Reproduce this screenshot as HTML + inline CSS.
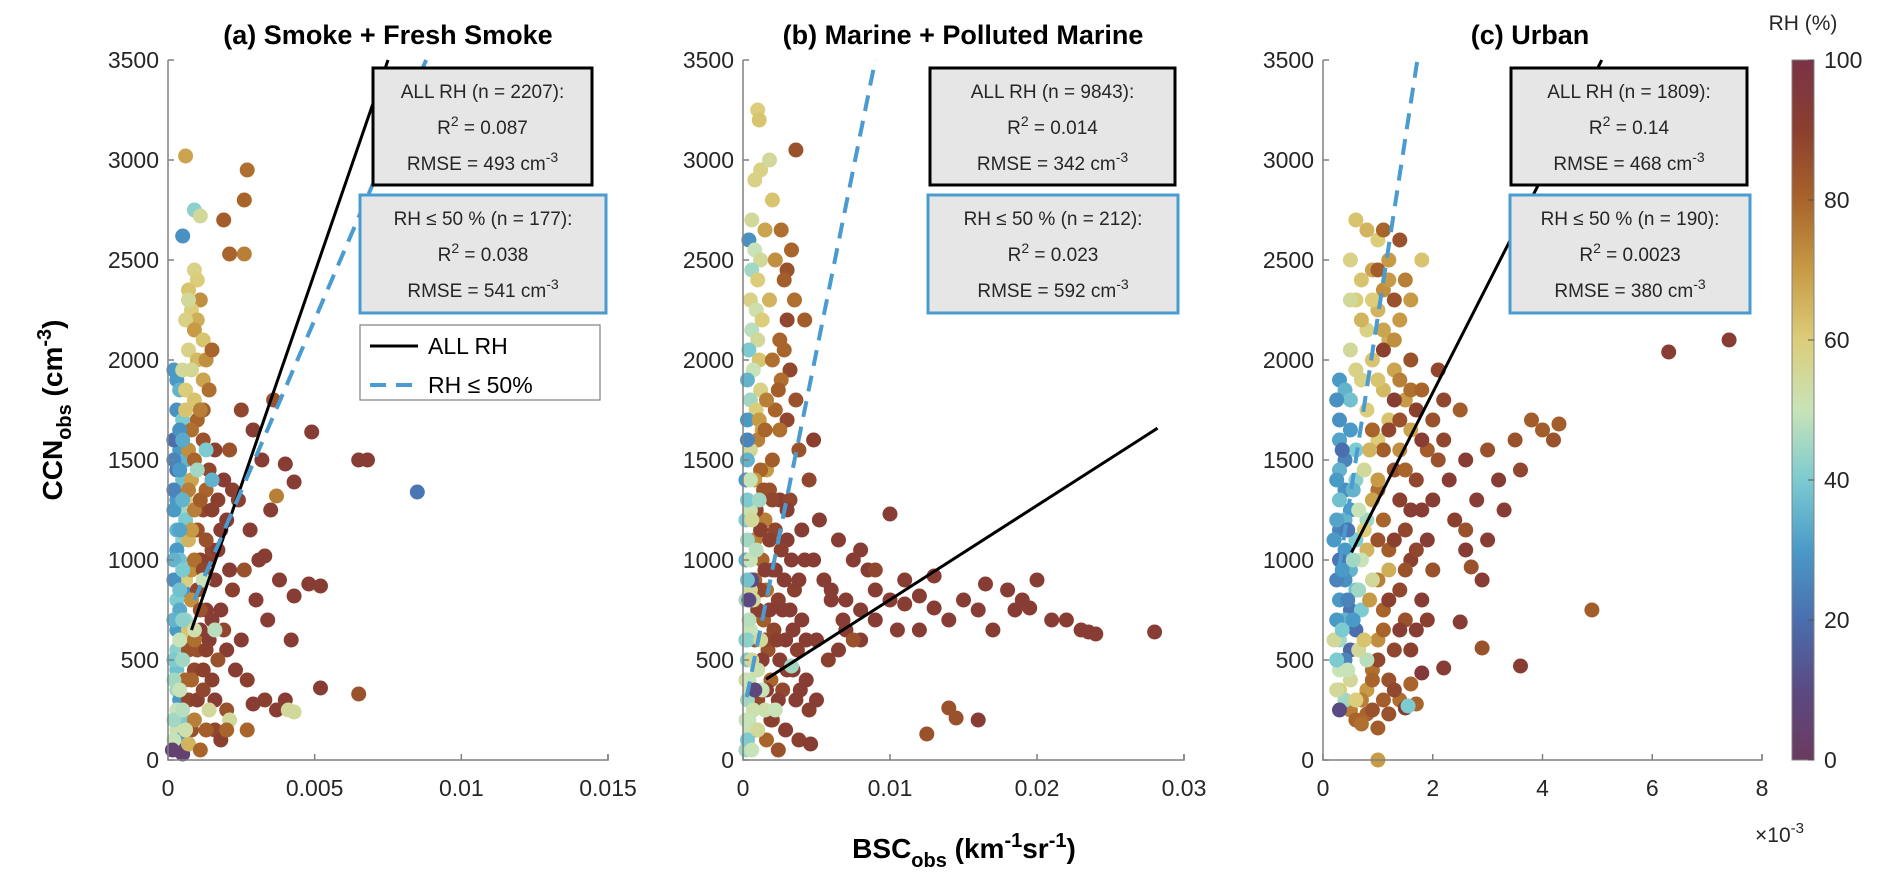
<!DOCTYPE html>
<html><head><meta charset="utf-8"><style>
html,body{margin:0;padding:0;background:#fff;}
svg{display:block;font-family:"Liberation Sans","DejaVu Sans",sans-serif;}
</style></head><body>
<svg id="chart" width="1892" height="895" viewBox="0 0 1892 895">
<defs>
<linearGradient id="rhgrad" x1="0" y1="1" x2="0" y2="0">
<stop offset="0" stop-color="#6b3a5f"/><stop offset="0.1" stop-color="#5b4a82"/><stop offset="0.2" stop-color="#4a6eae"/><stop offset="0.3" stop-color="#4a9ac8"/><stop offset="0.4" stop-color="#7ccbd0"/><stop offset="0.5" stop-color="#c8e3b8"/><stop offset="0.6" stop-color="#dccd7a"/><stop offset="0.7" stop-color="#c79a45"/><stop offset="0.8" stop-color="#a8642a"/><stop offset="0.9" stop-color="#8b3f2f"/><stop offset="1" stop-color="#7a3347"/>
</linearGradient>
</defs>
<g id="layer"></g>
</svg>
<script>
// Data (x in units of 1e-3 km^-1 sr^-1, y in cm^-3, rh in %)
const smokePoints = [
[0.3,1900,30],[0.4,1850,35],[0.3,1750,28],[0.5,1700,40],[0.3,1600,25],[0.4,1550,30],[0.6,1500,35],[0.3,1450,22],[0.5,1400,38],[0.3,1300,30],[0.4,1250,45],[0.6,1200,40],[0.3,1150,35],[0.5,1100,42],[0.3,1050,30],[0.4,1000,38],[0.6,950,45],[0.3,900,35],[0.5,850,28],[0.3,800,40],[0.4,750,33],[0.6,700,45],[0.3,650,30],[0.5,600,50],[0.3,550,42],[0.4,500,48],[0.3,450,38],[0.5,400,52],[0.3,350,45],[0.4,300,30],[0.3,250,50],[0.5,200,40],[0.3,150,52],[0.4,100,30],[0.3,50,10],[0.5,30,5],[0.2,1950,30],[0.2,1350,25],[0.2,700,35],[0.2,200,45],
[0.6,400,80],[0.7,550,85],[0.7,300,88],[0.8,150,85],[0.9,450,88],[1.0,300,90],[1.0,550,85],[1.0,850,88],[1.0,1150,85],[1.1,1000,90],[1.1,650,92],[1.2,450,90],[1.2,1250,88],[1.3,750,92],[1.4,1000,90],[1.4,600,92],[1.5,400,90],[1.5,1050,88],[1.6,150,88],[1.7,1300,90],[1.8,750,92],[1.8,1150,92],[2.0,550,92],[2.1,950,92],[2.2,1350,90],[0.7,1550,72],[0.8,1400,68],[0.7,1100,65],[0.6,900,60],[0.7,650,62],[0.6,1300,58],[0.9,1250,75],[0.8,950,72],[1.0,1700,80],[1.2,1750,82],[1.3,1350,80],[0.6,1750,62],[0.5,1950,55],
[0.9,2450,58],[1.0,2400,60],[0.7,2350,62],[1.1,2300,72],[0.8,2250,60],[1.0,2200,66],[0.6,2200,58],[0.9,2150,70],[1.2,2100,62],[0.7,2050,58],[1.0,2000,64],[0.8,1950,56],[1.2,1900,68],[0.6,1850,60],[0.9,1800,62],[1.1,1750,75],[0.7,2300,55],[1.3,2000,72],[1.5,2050,80],[1.4,1850,78],
[0.8,1650,78],[1.2,1600,85],[1.6,1550,90],[0.9,1500,80],[1.4,1450,88],[1.9,1400,92],[0.7,1350,75],[1.1,1300,82],[1.5,1250,90],[2.0,1200,92],[0.8,1150,70],[1.3,1100,85],[1.7,1050,92],[0.9,1000,78],[1.2,950,88],[1.6,900,92],[2.2,850,90],[0.8,800,72],[1.1,750,85],[1.5,700,92],[1.9,650,88],[0.9,600,78],[1.3,550,90],[1.7,500,85],[2.3,450,92],[0.8,400,80],[1.2,350,88],[1.6,300,92],[2.0,250,85],[0.9,200,75],[1.3,150,82],[1.8,100,90],[0.7,80,65],[1.1,50,80],[2.5,600,92],[2.6,950,85],[2.4,1300,90],[2.8,1150,92],[3.0,800,92],[2.7,400,90],[2.1,1550,85],[2.5,1750,88],[2.9,1650,92],[3.2,1500,92],[3.5,1250,92],[3.1,1000,92],[3.4,700,92],[3.8,900,92],[3.3,300,90],[3.7,250,92],[4.0,300,92],
[0.2,1600,20],[0.2,1500,25],[0.2,1250,30],[0.2,1000,35],[0.2,900,28],[0.2,500,40],[0.2,400,45],[0.2,100,50],[0.15,50,5],[0.4,1650,28],[0.5,1600,33],[0.4,1450,30],[0.5,1300,35],[0.4,1150,32],[0.5,950,40],[0.4,850,38],[0.5,700,42],[0.4,600,50],[0.5,500,45],[0.4,350,50],[0.5,250,48],[0.6,150,52],
[1.0,1450,45],[1.3,1550,40],[1.5,1400,35],[1.2,900,50],[0.9,650,52],[1.4,250,55],[4.3,240,55],[2.1,200,55],[1.6,650,48],
[0.6,3020,68],[2.7,2950,78],[2.6,2800,80],[0.5,2620,28],[0.9,2750,42],[1.1,2720,55],[1.9,2700,82],[2.1,2530,80],[2.6,2530,75],[8.5,1340,22],[6.5,1500,92],[6.8,1500,92],[4.9,1640,92],[3.6,1800,85],[4.0,1480,92],[4.3,1390,92],[3.7,1320,75],[4.8,880,92],[5.2,870,92],[4.3,820,92],[4.2,600,92],[5.2,360,92],[6.5,330,85],[4.1,250,55],[2.7,150,80],[2.0,150,80],[2.9,280,92],[3.3,1020,92]
];
const marinePoints = [
[1.0,3250,60],[1.1,3200,62],[1.2,2950,58],[1.8,3000,55],[2.0,2800,62],[3.6,3050,85],[0.4,2600,28],[0.8,2550,50],[1.2,2500,55],[0.6,2450,45],[1.0,2400,60],[0.5,2300,58],[0.9,2250,52],[1.3,2200,60],[0.6,2150,48],[1.0,2100,55],[0.4,2050,40],[1.1,2000,62],[0.7,1950,50],[0.3,1900,35],[1.2,1850,58],[0.5,1800,45],[0.9,1750,60],[0.3,1700,30],[3.0,2450,85],[3.3,2550,80],[2.8,2400,82],[3.5,2300,78],[3.0,2200,88],[2.5,2100,80],[3.2,1950,88],[2.6,1900,78],[3.6,1800,85],[2.2,1750,80],[3.0,1700,88],[4.2,2200,82],[4.8,1600,90],[3.8,1550,85],
[1.1,1700,70],[1.6,1800,75],[2.0,2000,78],[2.4,1850,82],[2.8,2050,80],[1.8,2300,65],[2.2,2500,72],[2.6,2650,78],[0.6,2700,55],[0.8,2900,58],[1.5,2650,68],[1.6,1450,70],[1.3,1650,68],
[1.2,1450,80],[1.8,1350,85],[2.5,1300,90],[1.5,1200,75],[2.2,1150,88],[3.0,1100,92],[1.3,1000,80],[2.0,950,88],[2.8,900,92],[3.5,850,90],[1.6,850,78],[2.4,800,90],[3.2,750,92],[4.0,700,92],[1.4,700,82],[2.1,650,88],[2.9,600,92],[3.7,550,90],[1.7,550,85],[2.5,500,92],[3.4,450,92],[4.3,400,92],[1.9,400,80],[2.7,350,88],[3.6,300,92],[4.5,250,90],[2.0,200,85],[2.9,150,92],[3.8,100,90],[4.6,80,92],[1.6,100,80],[2.4,50,85],[5.0,600,92],[5.5,900,92],[6.0,800,92],[4.8,1000,92],[5.2,1200,92],[6.5,1100,92],[4.5,1400,88],[5.8,500,90],[6.8,700,92],[5.0,300,92],[7.5,1000,92],[8.5,950,92],[4.0,1150,92],[3.2,1300,88],[2.0,1500,82],[1.0,1600,75],[1.5,1650,80],[2.5,1650,78],
[0.8,1400,70],[0.8,1100,75],[0.8,900,80],[0.8,600,85],[0.8,150,80],[0.9,1250,88],[1.0,750,90],[1.0,300,88],[1.2,1150,90],[1.2,850,88],[1.3,500,92],[1.4,1350,85],[1.5,950,92],[1.5,600,88],[1.6,350,92],[1.8,1100,90],[1.8,750,92],[1.9,200,90],[2.0,1300,88],[2.2,950,92],[2.3,600,90],[2.4,300,92],[2.6,1050,90],[2.7,750,92],[3.0,1250,92],[3.0,450,90],[3.3,1000,92],[3.4,650,92],[3.8,900,92],[3.9,350,92],[4.2,1000,92],[4.3,600,92],
[6,850,92],[7,800,92],[8,750,92],[9,850,92],[10,800,92],[11,780,92],[12,820,92],[13,760,92],[14,700,92],[15,800,92],[16,750,92],[17,650,92],[18,850,92],[19,800,92],[20,900,92],[21,700,92],[22,700,92],[23,650,92],[23.5,640,92],[24,630,92],[28,640,92],[19.5,760,92],[18.5,750,92],[16.5,880,92],[13,920,92],[10,1230,92],[11,900,92],[9,700,92],[7,650,92],[8,600,92],[6.5,550,92],[12.5,130,85],[14,260,85],[14.5,210,85],[16,200,92],[9,950,88],[8,1050,92],[7.5,600,85],[10.5,650,92],[12,650,92],
[0.2,1400,30],[0.2,1200,40],[0.2,1000,35],[0.2,800,45],[0.2,600,40],[0.2,400,55],[0.2,200,50],[0.2,50,45],[0.5,1550,55],[0.5,1250,52],[0.5,850,55],[0.5,650,50],[0.5,350,52],[0.5,150,50],[0.3,1600,25],[0.3,500,40],[0.6,900,10],
[0.3,1500,35],[0.5,1400,50],[0.3,1300,40],[0.6,1200,55],[0.3,1100,45],[0.5,1000,50],[0.3,900,38],[0.7,800,55],[0.4,700,48],[0.3,600,42],[0.6,500,55],[0.4,400,50],[0.3,300,45],[0.7,250,52],[0.4,200,50],[0.3,100,40],[0.6,50,50],[1.0,450,52],[1.3,350,50],[1.0,150,55],[1.5,250,52],[2.2,250,50],[1.2,600,55],[0.9,1050,48],[1.1,1300,45],[0.4,800,10],[0.8,350,8],[3.3,470,45]
];
const urbanPoints = [
[0.6,2700,62],[0.8,2650,65],[1.0,2600,60],[0.5,2500,58],[0.9,2450,68],[1.2,2500,70],[0.7,2400,62],[1.1,2350,72],[0.6,2300,60],[1.0,2250,65],[1.4,2200,70],[0.8,2150,58],[1.2,2100,66],[0.5,2050,55],[0.9,2000,62],[1.3,1950,68],[0.7,1900,58],[1.1,1850,64],[1.5,1800,70],[0.8,1750,60],[1.2,1700,62],[1.6,1650,68],[1.0,1600,60],[1.4,1550,72],[1.8,2500,62],[1.6,2300,70],[1.5,2400,75],
[0.7,2200,65],[0.9,2300,60],[1.1,2150,68],[1.3,2100,72],[0.6,1950,58],[1.0,1900,62],[1.2,2400,70],[1.4,1900,75],[0.5,2300,55],[1.6,1850,78],
[1.0,2450,82],[1.3,2300,85],[1.1,2050,90],[0.9,1650,80],[1.3,1450,85],[1.7,1400,88],[1.0,1350,78],[1.4,1300,90],[1.8,1250,92],[1.1,1200,80],[1.5,1150,88],[1.9,1100,92],[1.2,1050,82],[1.6,1000,90],[2.0,950,85],[1.0,900,75],[1.4,850,88],[1.8,800,92],[1.1,750,80],[1.5,700,85],[1.7,650,92],[1.0,600,72],[1.3,550,88],[0.9,450,78],[1.2,400,85],[1.6,380,80],[0.8,350,70],[1.1,300,82],[1.4,300,78],[1.7,280,80],[0.5,250,75],[0.8,230,80],[1.2,230,85],[0.6,200,80],[1.0,160,82],[0.7,180,78],[1.5,260,92],[2.1,1500,85],[2.3,1400,92],[1.9,1550,82],[1.7,1750,90],[1.4,2600,85],[1.1,2650,80],[1.3,1800,92],[2.2,1800,88],[1.0,1400,70],[1.2,950,66],[0.8,1050,65],[0.9,1300,68],
[0.9,400,80],[0.9,250,85],[1.0,1100,85],[1.0,500,88],[1.1,1550,82],[1.1,650,80],[1.2,1650,88],[1.2,800,90],[1.3,1100,90],[1.3,350,88],[1.4,1700,85],[1.4,650,92],[1.5,1450,80],[1.5,950,85],[1.6,1250,92],[1.6,550,90],[1.7,1050,88],[1.8,1600,92],[1.9,700,90],[2.0,1300,92],[0.7,300,75],
[3.8,1700,82],[4.0,1650,82],[4.2,1600,85],[4.3,1680,82],[3.5,1600,85],[3.0,1550,85],[2.6,1500,92],[3.2,1400,92],[2.8,1300,92],[2.4,1200,90],[3.0,1100,92],[2.6,1050,92],[2.2,1600,88],[2.0,1700,85],[2.5,1750,82],[1.8,1850,80],[2.1,1950,88],[1.6,2000,85],[2.6,1150,85],[3.3,1250,92],[3.6,1450,88],[2.9,900,92],
[6.3,2040,92],[7.4,2100,92],[4.9,750,82],[3.6,470,92],[2.9,560,85],[2.2,460,92],[1.8,435,95],[2.7,965,85],[2.5,690,92],[1.0,0,70],[1.55,270,40],
[0.3,1900,30],[0.4,1850,35],[0.5,1800,38],[0.3,1700,28],[0.5,1650,30],[0.3,1600,32],[0.6,1550,40],[0.4,1500,25],[0.3,1450,35],[0.6,1400,42],[0.4,1350,28],[0.3,1300,38],[0.5,1250,30],[0.4,1200,35],[0.3,1150,25],[0.6,1100,40],[0.4,1050,30],[0.3,1000,22],[0.5,950,35],[0.4,900,28],[0.6,850,38],[0.3,800,30],[0.5,750,22],[0.4,700,35],[0.6,650,20],[0.3,600,45],[0.5,550,18],[0.4,500,25],[0.3,450,50],[0.5,400,55],[0.3,350,60],[0.4,300,45],[0.3,250,10],[0.2,1100,30],[0.2,600,55],[0.7,1000,50],[0.8,1200,45],[0.7,750,40],[0.8,500,48],[0.9,900,55],[0.6,300,60],
[0.25,1800,28],[0.25,1400,30],[0.25,1200,32],[0.25,900,25],[0.25,700,30],[0.25,500,40],[0.25,350,55],[0.35,1550,20],[0.45,1150,22],[0.35,950,30],[0.45,800,25],[0.35,650,40],[0.45,450,50],[0.55,1350,35],[0.55,1000,45],[0.55,700,30],[0.65,1250,50],[0.65,850,45],[0.65,550,55],[0.75,1450,55],[0.75,1150,60],[0.75,600,62],[0.85,1550,65],[0.85,800,70]
];
// Fit lines [x0,y0,x1,y1]
const smokeFitAll = [0.8,650,7.5,3500];
const smokeFitLow = [0.9,800,8.8,3500];
const marineFitAll = [1.57,404,28.2,1659];
const marineFitLow = [0.25,314,9.0,3500];
const urbanFitAll = [0.52,1038,5.08,3500];
const urbanFitLow = [0.3,970,1.72,3500];
// Ticks
const yTicks = [0,500,1000,1500,2000,2500,3000,3500];
const smokeXTicks = [0,5,10,15];
const smokeXLabels = ["0","0.005","0.01","0.015"];
const marineXTicks = [0,10,20,30];
const marineXLabels = ["0","0.01","0.02","0.03"];
const urbanXTicks = [0,2,4,6,8];
const urbanXLabels = ["0","2","4","6","8"];
const rhTicks = [0,20,40,60,80,100];
// Stats
const smokeStats = {all:["2207","0.087","493"], low:["177","0.038","541"]};
const marineStats = {all:["9843","0.014","342"], low:["212","0.023","592"]};
const urbanStats = {all:["1809","0.14","468"], low:["190","0.0023","380"]};

const NS="http://www.w3.org/2000/svg";
const layer=document.getElementById('layer');
function mk(tag,attrs,parent){const e=document.createElementNS(NS,tag);for(const k in attrs)e.setAttribute(k,attrs[k]);(parent||layer).appendChild(e);return e;}
const cstops=[[0,[107,58,95]],[10,[91,74,130]],[20,[74,110,174]],[30,[74,154,200]],[40,[124,203,208]],[50,[200,227,184]],[60,[220,205,122]],[70,[199,154,69]],[80,[168,100,42]],[90,[139,63,47]],[100,[122,51,71]]];
function rhColor(v){for(let i=0;i<cstops.length-1;i++){const a=cstops[i],b=cstops[i+1];if(v<=b[0]){const t=(v-a[0])/(b[0]-a[0]);const c=a[1].map((q,j)=>Math.round(q+(b[1][j]-q)*t));return `rgb(${c[0]},${c[1]},${c[2]})`;}}return 'rgb(122,51,71)';}

const Y0=760,Y1=60;
function yPix(v){return Y0-(v/3500)*(Y0-Y1);}
const panels=[
 {key:'smoke',x0:168,x1:608,xmax:15,pts:smokePoints,all:smokeFitAll,low:smokeFitLow,ticks:smokeXTicks,labels:smokeXLabels,stats:smokeStats,title:"(a) Smoke + Fresh Smoke",tx:388,bx:[373,592],lx:[360,606]},
 {key:'marine',x0:743,x1:1184,xmax:30,pts:marinePoints,all:marineFitAll,low:marineFitLow,ticks:marineXTicks,labels:marineXLabels,stats:marineStats,title:"(b) Marine + Polluted Marine",tx:963,bx:[930,1175],lx:[928,1178]},
 {key:'urban',x0:1323,x1:1762,xmax:8,pts:urbanPoints,all:urbanFitAll,low:urbanFitLow,ticks:urbanXTicks,labels:urbanXLabels,stats:urbanStats,title:"(c) Urban",tx:1530,bx:[1511,1747],lx:[1510,1750]}
];
panels.forEach(p=>{
 const xPix=v=>p.x0+(v/p.xmax)*(p.x1-p.x0);
 const g=mk('g',{});
 
 
 const sg=mk('g',{},g);
 
 
 p.pts.forEach(d=>{const c=mk('circle',{cx:xPix(d[0]).toFixed(1),cy:yPix(d[1]).toFixed(1),r:7.5,fill:rhColor(d[2])},sg);
  
  });
 const la=mk('line',{x1:xPix(p.all[0]),y1:yPix(p.all[1]),x2:xPix(p.all[2]),y2:yPix(p.all[3]),stroke:'#000','stroke-width':3},g);
 
 
 const ll=mk('line',{x1:xPix(p.low[0]),y1:yPix(p.low[1]),x2:xPix(p.low[2]),y2:yPix(p.low[3]),stroke:'#4a9bd0','stroke-width':4,'stroke-dasharray':'16 10'},g);
 
 
 const ax=mk('path',{d:`M${p.x0},${Y1} V${Y0} H${p.x1} V${Y0-6}`,fill:'none',stroke:'#808080','stroke-width':1.5},g);
 
 
 yTicks.forEach(v=>{const y=yPix(v);mk('line',{x1:p.x0,x2:p.x0+6,y1:y,y2:y,stroke:'#808080','stroke-width':1.5},g);
  const t=mk('text',{x:p.x0-9,y:y+8,'text-anchor':'end','font-size':23,fill:'#262626'},g);t.textContent=v;
  
  });
 p.ticks.forEach((v,i)=>{const x=xPix(v);mk('line',{x1:x,x2:x,y1:Y0,y2:Y0-6,stroke:'#808080','stroke-width':1.5},g);
  const t=mk('text',{x:x,y:Y0+36,'text-anchor':'middle','font-size':23,fill:'#262626'},g);t.textContent=p.labels[i];
  
  });
 const tt=mk('text',{x:p.tx,y:44,'text-anchor':'middle','font-size':27,'font-weight':'bold',fill:'#000'},g);tt.textContent=p.title;
 
 
 function box(x0,x1,y0,y1,stroke,lines,name){
  const bg=mk('g',{},g);
  
  
  mk('rect',{x:x0,y:y0,width:x1-x0,height:y1-y0,fill:'#e6e6e6',stroke:stroke,'stroke-width':3},bg);
  const cx=(x0+x1)/2;
  const t1=mk('text',{x:cx,y:y0+30,'text-anchor':'middle','font-size':19,fill:'#262626'},bg);t1.textContent=lines[0];
  const t2=mk('text',{x:cx,y:y0+66,'text-anchor':'middle','font-size':19,fill:'#262626'},bg);
  t2.innerHTML=`R<tspan dy="-8" font-size="14">2</tspan><tspan dy="8"> = ${lines[1]}</tspan>`;
  const t3=mk('text',{x:cx,y:y0+102,'text-anchor':'middle','font-size':19,fill:'#262626'},bg);
  t3.innerHTML=`RMSE = ${lines[2]} cm<tspan dy="-8" font-size="14">-3</tspan>`;
 }
 box(p.bx[0],p.bx[1],68,185,'#000',[`ALL RH (n = ${p.stats.all[0]}):`,p.stats.all[1],p.stats.all[2]],p.key+'-all-rh-stats');
 box(p.lx[0],p.lx[1],195,313,'#4a9bd0',[`RH \u2264 50 % (n = ${p.stats.low[0]}):`,p.stats.low[1],p.stats.low[2]],p.key+'-low-rh-stats');
});
(function(){
 const g=mk('g',{});
 
 
 mk('rect',{x:360,y:325,width:240,height:75,fill:'#fff',stroke:'#808080','stroke-width':1.2},g);
 mk('line',{x1:370,x2:418,y1:346,y2:346,stroke:'#000','stroke-width':3},g);
 mk('line',{x1:370,x2:418,y1:385,y2:385,stroke:'#4a9bd0','stroke-width':4,'stroke-dasharray':'16 10'},g);
 const a=mk('text',{x:428,y:354,'font-size':23,fill:'#000'},g);a.textContent='ALL RH';
 
 
 const b=mk('text',{x:428,y:393,'font-size':23,fill:'#000'},g);b.textContent='RH \u2264 50%';
 
 
})();
(function(){
 const g=mk('g',{});
 
 
 mk('rect',{x:1792,y:Y1,width:22,height:Y0-Y1,fill:'url(#rhgrad)',stroke:'#808080','stroke-width':1},g);
 rhTicks.forEach(v=>{const y=Y0-(v/100)*(Y0-Y1);
  mk('line',{x1:1808,x2:1814,y1:y,y2:y,stroke:'#555','stroke-width':1},g);
  const t=mk('text',{x:1824,y:y+8,'font-size':23,fill:'#262626'},g);t.textContent=v;
  
  });
 const t=mk('text',{x:1803,y:30,'text-anchor':'middle','font-size':21,fill:'#262626'},g);t.textContent='RH (%)';
 
 
})();
(function(){
 const yl=mk('text',{transform:'translate(62,410) rotate(-90)','text-anchor':'middle','font-size':28,'font-weight':'bold',fill:'#000'});
 yl.innerHTML='CCN<tspan dy="9" font-size="20">obs</tspan><tspan dy="-9"> (cm</tspan><tspan dy="-11" font-size="20">-3</tspan><tspan dy="11">)</tspan>';
 
 
 const xl=mk('text',{x:964,y:858,'text-anchor':'middle','font-size':28,'font-weight':'bold',fill:'#000'});
 xl.innerHTML='BSC<tspan dy="9" font-size="20">obs</tspan><tspan dy="-9"> (km</tspan><tspan dy="-11" font-size="20">-1</tspan><tspan dy="11">sr</tspan><tspan dy="-11" font-size="20">-1</tspan><tspan dy="11">)</tspan>';
 
 
 const ex=mk('text',{x:1755,y:842,'font-size':21,fill:'#262626'});
 ex.innerHTML='\u00d710<tspan dy="-9" font-size="15">-3</tspan>';
 
 
})();
</script>
</body></html>
